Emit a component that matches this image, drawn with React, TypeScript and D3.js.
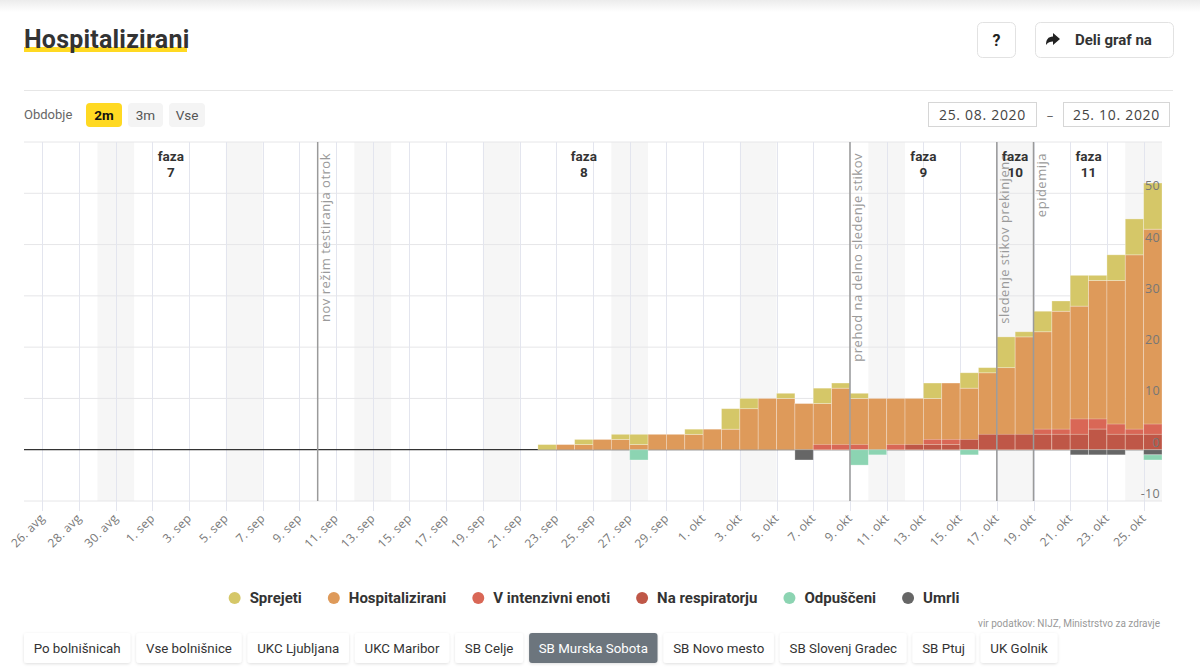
import React from "react";
import * as d3 from "d3";

// ---------- data ----------
const DAYS = [
  "2020-09-22", "2020-09-23", "2020-09-24", "2020-09-25", "2020-09-26", "2020-09-27", "2020-09-28", "2020-09-29", "2020-09-30",
  "2020-10-01", "2020-10-02", "2020-10-03", "2020-10-04", "2020-10-05", "2020-10-06", "2020-10-07", "2020-10-08", "2020-10-09",
  "2020-10-10", "2020-10-11", "2020-10-12", "2020-10-13", "2020-10-14", "2020-10-15", "2020-10-16", "2020-10-17", "2020-10-18",
  "2020-10-19", "2020-10-20", "2020-10-21", "2020-10-22", "2020-10-23", "2020-10-24", "2020-10-25",
];
const SPREJETI = [1, 0, 1, 0, 1, 2, 0, 0, 1, 0, 4, 2, 0, 1, 0, 3, 1, 1, 0, 0, 0, 3, 0, 3, 1, 6, 1, 4, 2, 6, 1, 5, 7, 9];
const HOSPITALIZIRANI = [0, 1, 1, 2, 2, 1, 3, 3, 3, 4, 4, 8, 10, 10, 9, 9, 12, 10, 10, 10, 10, 10, 13, 12, 15, 16, 22, 23, 27, 28, 33, 33, 38, 43];
const V_INTENZIVNI = [0, 0, 0, 0, 0, 0, 0, 0, 0, 0, 0, 0, 0, 0, 0, 1, 1, 1, 0, 1, 1, 2, 2, 2, 3, 3, 3, 4, 4, 6, 6, 5, 4, 5];
const NA_RESPIRATORJU = [0, 0, 0, 0, 0, 0, 0, 0, 0, 0, 0, 0, 0, 0, 0, 0, 0, 0, 0, 0, 1, 1, 1, 2, 3, 3, 3, 3, 3, 3, 4, 3, 3, 3];
const ODPUSCENI = [0, 0, 0, 0, 0, 2, 0, 0, 0, 0, 0, 0, 0, 0, 0, 0, 0, 3, 1, 0, 0, 0, 0, 1, 0, 0, 0, 0, 0, 0, 0, 0, 0, 1];
const UMRLI = [0, 0, 0, 0, 0, 0, 0, 0, 0, 0, 0, 0, 0, 0, 2, 0, 0, 0, 0, 0, 0, 0, 0, 0, 0, 0, 0, 0, 0, 1, 1, 1, 0, 1];

const TICK_DATES = [
  "2020-08-26", "2020-08-28", "2020-08-30", "2020-09-01", "2020-09-03", "2020-09-05", "2020-09-07", "2020-09-09",
  "2020-09-11", "2020-09-13", "2020-09-15", "2020-09-17", "2020-09-19", "2020-09-21", "2020-09-23", "2020-09-25",
  "2020-09-27", "2020-09-29", "2020-10-01", "2020-10-03", "2020-10-05", "2020-10-07", "2020-10-09", "2020-10-11",
  "2020-10-13", "2020-10-15", "2020-10-17", "2020-10-19", "2020-10-21", "2020-10-23", "2020-10-25",
];
const MONTH_ABBR = ["jan", "feb", "mar", "apr", "maj", "jun", "jul", "avg", "sep", "okt", "nov", "dec"];
const Y_TICKS = [-10, 0, 10, 20, 30, 40, 50];
const Y_GRID = [-10, 10, 20, 30, 40, 50, 60];
const WEEKENDS = ["2020-08-29", "2020-09-05", "2020-09-12", "2020-09-19", "2020-09-26", "2020-10-03", "2020-10-10", "2020-10-17", "2020-10-24"];

const ANNOTATION_DATES = ["2020-09-10", "2020-10-09", "2020-10-17", "2020-10-19"];
const ANNOTATION_LABELS = ["nov režim testiranja otrok", "prehod na delno sledenje stikov", "sledenje stikov prekinjeno", "epidemija"];
const PHASE_BOUNDS = ["2020-08-25", "2020-09-10", "2020-10-09", "2020-10-17", "2020-10-19", "2020-10-25"];
const PHASE_NUMBERS = ["7", "8", "9", "10", "11"];

const SERIES_LABELS = ["Sprejeti", "Hospitalizirani", "V intenzivni enoti", "Na respiratorju", "Odpuščeni", "Umrli"];
const SERIES_COLORS = ["#d5c768", "#de9a5a", "#d96756", "#bf5747", "#8cd4b2", "#666666"];

const PERIOD_BUTTONS = ["2m", "3m", "Vse"];
const HOSPITAL_BUTTONS = ["Po bolnišnicah", "Vse bolnišnice", "UKC Ljubljana", "UKC Maribor", "SB Celje", "SB Murska Sobota", "SB Novo mesto", "SB Slovenj Gradec", "SB Ptuj", "UK Golnik"];
const ACTIVE_HOSPITAL = "SB Murska Sobota";

// ---------- helpers ----------
const parse = (s: string) => new Date(s + "T00:00:00Z");
let _ctx: CanvasRenderingContext2D | null = null;
function textW(t: string, font: string): number {
  if (!_ctx) _ctx = document.createElement("canvas").getContext("2d");
  if (!_ctx) return t.length * 7;
  _ctx.font = font;
  return _ctx.measureText(t).width;
}

const UI = "Roboto, 'Noto Sans', sans-serif";
const AX = "'Open Sans', 'Noto Sans', sans-serif";

export default function App() {
  const W = 1200, H = 671;
  const left = 24, right = 1162, top = 142, bottom = 501;
  const x = d3.scaleUtc().domain([parse("2020-08-25"), parse("2020-10-26")]).range([left, right]);
  const y = d3.scaleLinear().domain([-10, 60]).range([bottom, top]);
  const nd = (d: Date) => d3.utcDay.offset(d, 1);

  const bars = DAYS.map((s, i) => {
    const d = parse(s);
    return {
      x0: x(d), x1: x(nd(d)),
      hosp: HOSPITALIZIRANI[i], adm: SPREJETI[i], icu: V_INTENZIVNI[i], resp: NA_RESPIRATORJU[i],
      dis: ODPUSCENI[i], dec: UMRLI[i],
    };
  });

  const barStroke = "rgba(255,255,255,0.35)";
  const rect = (key: string, x0: number, x1: number, v0: number, v1: number, fill: string) =>
    v1 === v0 ? null : (
      <rect key={key} x={x0} width={x1 - x0} y={y(Math.max(v0, v1))} height={Math.abs(y(v0) - y(v1))} fill={fill} stroke={barStroke} strokeWidth={0.8} />
    );

  // legend layout
  const legFont = `700 15px ${UI}`;
  const legW = SERIES_LABELS.map((l) => textW(l, legFont));
  const legTotal = legW.reduce((a, b) => a + b, 0) + SERIES_LABELS.length * 21 + (SERIES_LABELS.length - 1) * 26;
  let legX = 594 - legTotal / 2;
  const legItems = SERIES_LABELS.map((l, i) => {
    const cx = legX + 6;
    const item = { l, cx, tx: cx + 15, c: SERIES_COLORS[i] };
    legX += 21 + legW[i] + 26;
    return item;
  });

  // bottom buttons layout
  const btnFont = `400 13.3px ${UI}`;
  let bx = 24;
  const btns = HOSPITAL_BUTTONS.map((l) => {
    const w = textW(l, btnFont) + 19.3;
    const b = { l, x: bx, w };
    bx += w + 6;
    return b;
  });

  const monthFmt = (d: Date) => `${d.getUTCDate()}. ${MONTH_ABBR[d.getUTCMonth()]}`;

  return (
    <svg width={W} height={H} viewBox={`0 0 ${W} ${H}`} style={{ position: "absolute", left: 0, top: 0, background: "#fff" }}>
      <defs>
        <linearGradient id="topfade" x1="0" y1="0" x2="0" y2="1">
          <stop offset="0" stopColor="#ececec" />
          <stop offset="1" stopColor="#ffffff" />
        </linearGradient>
        <filter id="sh" x="-20%" y="-30%" width="140%" height="170%">
          <feDropShadow dx="0" dy="1" stdDeviation="1.5" floodColor="#000" floodOpacity="0.13" />
        </filter>
      </defs>
      <rect x={0} y={0} width={W} height={12} fill="url(#topfade)" />

      {/* header */}
      <rect x={24} y={47} width={163} height={5} fill="#ffd922" />
      <text x={24} y={48} fontFamily={UI} fontWeight={700} fontSize={25} fill="#333" letterSpacing={0.2}>Hospitalizirani</text>

      <rect x={977.5} y={22.5} width={38} height={35} rx={5} fill="#fff" stroke="#e2e2e2" />
      <text x={996.5} y={46} textAnchor="middle" fontFamily={UI} fontWeight={700} fontSize={16} fill="#222">?</text>
      <rect x={1035.5} y={22.5} width={138} height={35} rx={5} fill="#fff" stroke="#e2e2e2" />
      <path d="M1060,39 L1053,33 L1053,36.5 C1048,36.5 1046,40 1046,45 C1048,42 1050,41.5 1053,41.5 L1053,45 Z" fill="#222" />
      <text x={1075} y={45} fontFamily={UI} fontWeight={700} fontSize={15} fill="#333">Deli graf na</text>

      <line x1={24} x2={1173} y1={90.5} y2={90.5} stroke="#e6e6e6" />

      <text x={24} y={119} fontFamily={UI} fontSize={13} fill="#666">Obdobje</text>
      {PERIOD_BUTTONS.map((l, i) => {
        const bxp = [86, 128, 169][i];
        const w = [36, 35, 36][i];
        return (
          <g key={l}>
            <rect x={bxp} y={103} width={w} height={24} rx={4} fill={i === 0 ? "#ffd922" : "#f4f4f4"} />
            <text x={bxp + w / 2} y={119.5} textAnchor="middle" fontFamily={UI} fontWeight={i === 0 ? 700 : 400} fontSize={13.5} fill={i === 0 ? "#111" : "#555"}>{l}</text>
          </g>
        );
      })}

      <rect x={928.5} y={102.5} width={108} height={24} fill="#fff" stroke="#d6d6d6" />
      <text x={982.5} y={119.5} textAnchor="middle" fontFamily={AX} fontSize={14} letterSpacing={0.7} fill="#444">25. 08. 2020</text>
      <text x={1050} y={119.5} textAnchor="middle" fontFamily={AX} fontSize={13} fill="#666">–</text>
      <rect x={1063.5} y={102.5} width={106} height={24} fill="#fff" stroke="#d6d6d6" />
      <text x={1116.5} y={119.5} textAnchor="middle" fontFamily={AX} fontSize={14} letterSpacing={0.7} fill="#444">25. 10. 2020</text>

      {/* weekend bands */}
      {WEEKENDS.map((s) => {
        const d = parse(s);
        return <rect key={s} x={x(d)} width={x(d3.utcDay.offset(d, 2)) - x(d)} y={top} height={bottom - top} fill="#f6f6f6" />;
      })}

      {/* grid */}
      {Y_GRID.map((v) => (
        <line key={"hg" + v} x1={left} x2={right} y1={y(v)} y2={y(v)} stroke="#e6e6e8" strokeWidth={1} />
      ))}
      {TICK_DATES.map((s) => {
        const xv = Math.round(x(parse(s))) + 0.5;
        return <line key={"vg" + s} x1={xv} x2={xv} y1={top} y2={bottom + 10} stroke="#e3e5ee" strokeWidth={1} />;
      })}
      <line x1={left} x2={right} y1={y(0)} y2={y(0)} stroke="#333" strokeWidth={1.2} />

      {/* bars */}
      {bars.map((b, i) => (
        <g key={"b" + i}>
          {rect("h", b.x0, b.x1, 0, b.hosp, SERIES_COLORS[1])}
          {rect("a", b.x0, b.x1, b.hosp, b.hosp + b.adm, SERIES_COLORS[0])}
          {rect("i", b.x0, b.x1, b.resp, b.icu, SERIES_COLORS[2])}
          {rect("r", b.x0, b.x1, 0, b.resp, SERIES_COLORS[3])}
          {rect("u", b.x0, b.x1, 0, -b.dec, SERIES_COLORS[5])}
          {rect("o", b.x0, b.x1, -b.dec, -b.dec - b.dis, SERIES_COLORS[4])}
        </g>
      ))}

      {/* annotations */}
      {ANNOTATION_DATES.map((s, i) => {
        const xv = x(parse(s));
        return (
          <g key={"an" + s}>
            <line x1={xv} x2={xv} y1={top} y2={bottom} stroke="#9a9a9a" strokeWidth={1.5} />
            <text transform={`translate(${xv + 12.5},${153}) rotate(-90)`} textAnchor="end" fontFamily={AX} fontSize={13} letterSpacing={0.5} fill="#9a9a9a">
              {ANNOTATION_LABELS[i]}
            </text>
          </g>
        );
      })}
      {PHASE_NUMBERS.map((n, i) => {
        const xa = x(parse(PHASE_BOUNDS[i]));
        const xb = x(parse(PHASE_BOUNDS[i + 1]));
        const cx = (xa + xb) / 2;
        return (
          <g key={"ph" + n}>
            <text x={cx} y={161} textAnchor="middle" fontFamily={UI} fontWeight={700} fontSize={13.5} fill="#333">faza</text>
            <text x={cx} y={177} textAnchor="middle" fontFamily={UI} fontWeight={700} fontSize={13.5} fill="#333">{n}</text>
          </g>
        );
      })}

      {/* y labels */}
      {Y_TICKS.map((v) => (
        <text key={"yl" + v} x={1160} y={y(v) - 3} textAnchor="end" fontFamily={AX} fontSize={12.5} letterSpacing={0.3} fill="#777">{v}</text>
      ))}

      {/* x labels */}
      {TICK_DATES.map((s) => {
        const d = parse(s);
        return (
          <text key={"xl" + s} transform={`translate(${x(d) + 3},${519}) rotate(-45)`} textAnchor="end" fontFamily={AX} fontSize={12} letterSpacing={0.3} fill="#777">
            {monthFmt(d)}
          </text>
        );
      })}

      {/* legend */}
      {legItems.map((it) => (
        <g key={"lg" + it.l}>
          <circle cx={it.cx} cy={598} r={6} fill={it.c} />
          <text x={it.tx} y={603} fontFamily={UI} fontWeight={700} fontSize={15} fill="#333">{it.l}</text>
        </g>
      ))}

      <text x={1160} y={627} textAnchor="end" fontFamily={UI} fontSize={10} fill="#999">vir podatkov: NIJZ, Ministrstvo za zdravje</text>

      {btns.map((b) => {
        const active = b.l === ACTIVE_HOSPITAL;
        return (
          <g key={"bt" + b.l}>
            <rect x={b.x} y={633} width={b.w} height={30} rx={3} fill={active ? "#6c757d" : "#fff"} filter="url(#sh)" />
            <text x={b.x + b.w / 2} y={652.5} textAnchor="middle" fontFamily={UI} fontSize={13.3} fill={active ? "#fff" : "#333"}>{b.l}</text>
          </g>
        );
      })}
    </svg>
  );
}
